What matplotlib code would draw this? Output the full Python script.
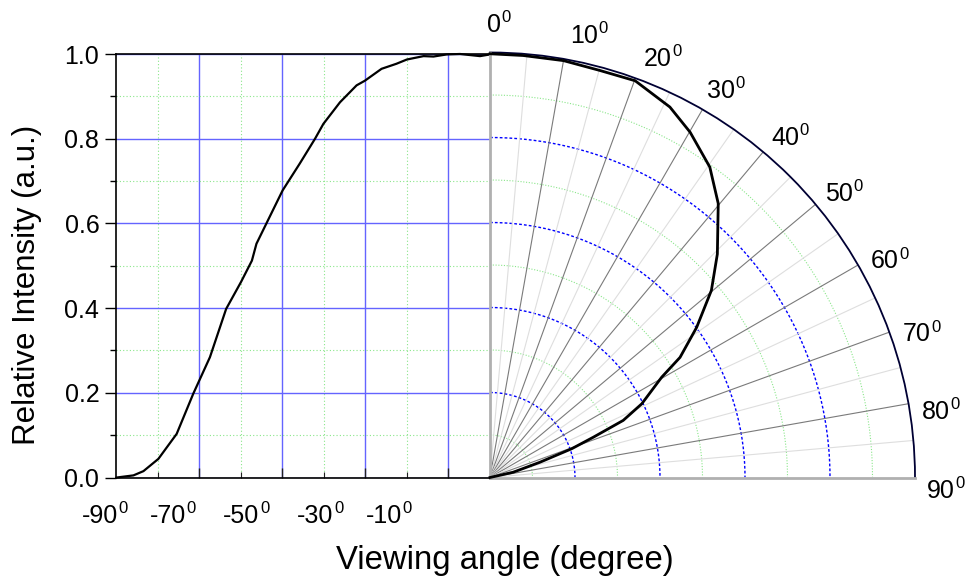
import numpy as np
import matplotlib
matplotlib.use("Agg")
import matplotlib.pyplot as plt
import matplotlib.transforms as mtransforms

plt.rcParams["font.family"] = ["Liberation Sans", "DejaVu Sans"]

# ── data ───────────────────────────────────────────────────────────
# left half: cartesian, intensity vs viewing angle (deg)
angle_left = [-89.8, -85.8, -83.4, -79.8, -75.4, -71.4, -67.4, -63.5,
              -59.9, -57.3, -56.2, -53.8, -49.9, -45.8, -42.1, -40.1,
              -36.1, -32.1, -30.1, -26.1, -22.5, -20.0, -16.0, -13.6,
              -10.4, -7.2, -2.4, 0.0]
intensity_left = [0.0, 0.005, 0.015, 0.044, 0.103, 0.198, 0.284, 0.398,
                  0.462, 0.512, 0.552, 0.600, 0.678, 0.741, 0.800, 0.835,
                  0.886, 0.926, 0.937, 0.965, 0.977, 0.987, 0.995, 0.994,
                  0.999, 1.0, 0.995, 0.999]

# right half: polar, intensity vs viewing angle (deg)
angle_right = [0, 4.5, 10, 15.1, 20.1, 25.9, 30.1, 35.3, 39.8, 45.5,
               49.8, 54.0, 57.7, 59.7, 64.1, 66.8, 68.7, 70.6, 73.0,
               77.2, 90]
intensity_right = [0.997, 0.996, 0.996, 0.992, 0.994, 0.969, 0.939, 0.895,
                   0.839, 0.750, 0.682, 0.601, 0.529, 0.468, 0.397, 0.341,
                   0.261, 0.204, 0.123, 0.056, 0.0]

left_tick_labels = ["-90", "-70", "-50", "-30", "-10"]
polar_tick_angles = [0, 10, 20, 30, 40, 50, 60, 70, 80, 90]

# ── layout (pixels of a 968x582 canvas) ───────────────────────────
W, H = 968, 582
fig = plt.figure(figsize=(W / 100, H / 100), dpi=100)

x0, x_mid, x1 = 116, 490, 915
y_top, y_bot = 54, 477.5

ax = fig.add_axes([x0 / W, (H - y_bot) / H, (x_mid - x0) / W, (y_bot - y_top) / H])
pax = fig.add_axes([x_mid / W, (H - y_bot) / H, (x1 - x_mid) / W, (x1 - x_mid) / H],
                   projection="polar")

blue_grid = "#6464ff"
green_grid = "#8ae68a"


def degree_label(axis, x, y, base, **kw):
    """number with a small superscript 0, like the original"""
    t = axis.text(x, y, base, fontsize=18, ha="center", va="center",
                  clip_on=False, **kw)
    axis.annotate("0", xy=(1, 1), xycoords=t, xytext=(0.5, 2),
                  textcoords="offset points", fontsize=12, ha="left",
                  va="top", annotation_clip=False)
    return t


# ── left cartesian half ───────────────────────────────────────────
ax.set_xlim(-90, 0)
ax.set_ylim(0, 1)
ax.set_xticks([-70, -50, -30, -10])
ax.set_xticks([-80, -60, -40, -20], minor=True)
ax.set_xticklabels([])
ax.set_yticks(np.arange(0, 1.01, 0.2))
ax.set_yticks(np.arange(0.1, 1.0, 0.2), minor=True)
ax.set_yticklabels([f"{v:.1f}" for v in np.arange(0, 1.01, 0.2)], fontsize=18)

ax.grid(True, which="major", color=blue_grid, linewidth=1.0, linestyle="-")
ax.grid(True, which="minor", color=green_grid, linewidth=0.8, linestyle=(0, (1, 2)))
ax.set_axisbelow(True)

ax.tick_params(axis="x", which="major", direction="in", length=7, width=1.0, color="#222222")
ax.tick_params(axis="x", which="minor", direction="in", length=4, width=0.8, color="#222222")
ax.tick_params(axis="y", which="major", direction="out", length=8, width=1.0, pad=4)
ax.tick_params(axis="y", which="minor", direction="out", length=4, width=1.0)

ax.spines["right"].set_visible(False)
for s in ["left", "top", "bottom"]:
    ax.spines[s].set_linewidth(1.2)
    ax.spines[s].set_color("black")

ax.plot(angle_left, intensity_left, color="black", linewidth=1.6, zorder=5, clip_on=False)

# x tick labels sit left of their tick marks in the reference
label_x = [-93.9, -77.5, -59.9, -42.1, -25.5]
trans = mtransforms.blended_transform_factory(ax.transData, ax.transAxes)
for lx, txt in zip(label_x, left_tick_labels):
    degree_label(ax, lx, -0.091, txt, transform=trans)

# ── right polar half ──────────────────────────────────────────────
pax.set_theta_zero_location("N")
pax.set_theta_direction(-1)
pax.set_thetamin(0)
pax.set_thetamax(90)
pax.set_rlim(0, 1)
pax.grid(False)
pax.set_yticks([])
pax.patch.set_alpha(0)

pax.set_xticks(np.deg2rad(polar_tick_angles))
pax.set_xticks(np.deg2rad(np.arange(5, 90, 10)), minor=True)
pax.set_xticklabels([])
pax.tick_params(axis="x", which="major", direction="in", length=6, width=1.0, color="#111111")
pax.tick_params(axis="x", which="minor", direction="in", length=4, width=1.0, color="#111111")

arc = np.linspace(0, np.pi / 2, 300)
for r in [0.2, 0.4, 0.6, 0.8]:
    pax.plot(arc, np.full_like(arc, r), color="#0000ff", linewidth=1.0,
             linestyle=(0, (2, 1.5)), zorder=2)
for r in [0.1, 0.3, 0.5, 0.7, 0.9]:
    pax.plot(arc, np.full_like(arc, r), color=green_grid, linewidth=0.8,
             linestyle=(0, (1, 1.5)), zorder=2)
for a in range(5, 90, 5):
    col = "#7a7a7a" if a % 10 == 0 else "#dedede"
    pax.plot([np.deg2rad(a)] * 2, [0, 1], color=col, linewidth=0.8, zorder=2)

pax.spines["polar"].set_color("#000033")
pax.spines["polar"].set_linewidth(1.3)
for s in ["start", "end"]:
    pax.spines[s].set_color("#b0b0b0")
    pax.spines[s].set_linewidth(2.0)

pax.plot(np.deg2rad(angle_right), intensity_right, color="black", linewidth=2.0,
         zorder=6, clip_on=False)

# angular nudge of each label off its tick
label_nudge = [1.2, 2.6, 2.3, 1.2, 1.2, 1.0, 1.2, 1.2, 1.2, 1.2]
polar_trans = mtransforms.offset_copy(pax.transData, fig=fig, x=-4.3, y=-2.9,
                                      units="points")
for a, nd in zip(polar_tick_angles, label_nudge):
    degree_label(pax, np.deg2rad(a + nd), 1.075, str(a), transform=polar_trans)

# ── axis titles ───────────────────────────────────────────────────
fig.text(27 / W, 1 - 285 / H, "Relative Intensity (a.u.)", rotation=90,
         ha="center", va="center", fontsize=22.5)
fig.text(505 / W, 1 - 560 / H, "Viewing angle (degree)", ha="center",
         va="center", fontsize=23.7)

fig.savefig("out.png", dpi=100)
